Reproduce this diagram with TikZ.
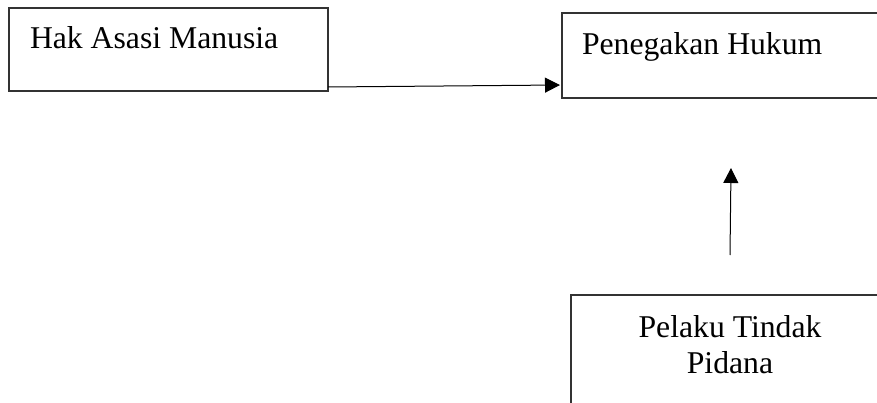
\documentclass[tikz,border=0pt]{standalone}
\usepackage{fontspec}
\setmainfont{Liberation Serif}
\usetikzlibrary{arrows.meta,calc}
\begin{document}
\begin{tikzpicture}[x=1pt,y=-1pt,
  box/.style={draw=black!80,line width=1.2pt,inner sep=0pt,outer sep=0pt,anchor=north west},
  lbl/.style={font=\fontsize{31.7}{36}\selectfont,inner sep=0pt,outer sep=0pt},
  arr/.style={draw=black,line width=1pt,-{Triangle[length=15pt,width=15pt]}}]
\useasboundingbox (0,0) rectangle (877,403);
\clip (0,0) rectangle (877,403);
\node[box,minimum width=319pt,minimum height=83pt] (b1) at (9,8) {};
\node[box,minimum width=340pt,minimum height=85pt] (b2) at (562,13) {};
\node[box,minimum width=330pt,minimum height=140pt] (b3) at (571,295) {};
\node[lbl,anchor=base west] (t1) at (30,49) {Hak Asasi Manusia};
\node[lbl,anchor=base west] (t2) at (582,55) {Penegakan Hukum};
\node[lbl,anchor=north,align=center] (t3) at (730,315.4) {Pelaku Tindak\\Pidana};
\coordinate (a1s) at ($(b1.south east)+(0,-4)$);
\coordinate (a1e) at ($(b2.north west)+(-2,72)$);
\coordinate (a2s) at ($(b3.north west)+(159,-40)$);
\coordinate (a2e) at ($(b2.south west)+(169,70)$);
\draw[arr] (a1s) -- (a1e);
\draw[arr] (a2s) -- (a2e);
\end{tikzpicture}
\end{document}
